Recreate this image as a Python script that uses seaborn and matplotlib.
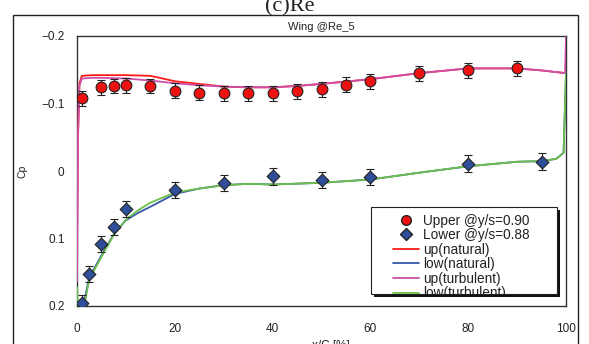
import numpy as np
import pandas as pd
import matplotlib
matplotlib.use("Agg")
import matplotlib.pyplot as plt
import seaborn as sns
from matplotlib.patches import Rectangle
from matplotlib.lines import Line2D

# ---------------- data ----------------
x_up = [1, 5, 7.5, 10, 15, 20, 25, 30, 35, 40, 45, 50, 55, 60, 70, 80, 90]
cp_up = [-0.108, -0.124, -0.126, -0.127, -0.126, -0.119, -0.116, -0.115, -0.115,
         -0.115, -0.118, -0.121, -0.128, -0.133, -0.145, -0.149, -0.152]
err_up = [0.011] * len(x_up)

x_low = [1, 2.5, 5, 7.5, 10, 20, 30, 40, 50, 60, 80, 95]
cp_low = [0.196, 0.152, 0.108, 0.083, 0.056, 0.028, 0.018, 0.008, 0.013, 0.009,
          -0.011, -0.014]
err_low = [0.012] * len(x_low)

x_upn = [0, 0.2, 0.5, 1, 3, 5, 10, 15, 20, 25, 30, 35, 40, 45, 50, 60, 70, 80,
         90, 95, 100]
cp_upn = [0.10, -0.05, -0.13, -0.141, -0.142, -0.142, -0.142, -0.141, -0.133,
          -0.129, -0.125, -0.124, -0.124, -0.126, -0.129, -0.136, -0.145, -0.152,
          -0.152, -0.149, -0.145]

x_upt = [0, 0.2, 0.5, 1, 3, 5, 10, 15, 20, 25, 30, 35, 40, 45, 50, 60, 70, 80,
         90, 95, 99.8, 100]
cp_upt = [0.164, -0.05, -0.127, -0.137, -0.138, -0.138, -0.137, -0.134, -0.130,
          -0.127, -0.125, -0.124, -0.124, -0.126, -0.129, -0.136, -0.145, -0.152,
          -0.152, -0.149, -0.145, -0.2]

x_lown = [0.8, 1.5, 2.5, 5, 7.5, 10, 12.5, 15, 20, 25, 30, 35, 40, 50, 60, 70,
          80, 90, 95, 98, 99.5, 100]
cp_lown = [0.215, 0.192, 0.158, 0.125, 0.094, 0.073, 0.062, 0.053, 0.034, 0.026,
           0.021, 0.019, 0.020, 0.0175, 0.0126, 0.0025, -0.007, -0.0137, -0.0146,
           -0.018, -0.027, -0.145]

x_lowt = [0, 0.3, 1.2, 2.5, 5, 7.5, 10, 12.5, 15, 20, 25, 30, 35, 40, 50, 60, 70,
          80, 90, 95, 98, 99.5, 100]
cp_lowt = [0.172, 0.215, 0.21, 0.161, 0.127, 0.095, 0.072, 0.058, 0.047, 0.032,
           0.026, 0.021, 0.019, 0.020, 0.0175, 0.0126, 0.0025, -0.007, -0.0137,
           -0.0146, -0.018, -0.027, -0.145]

x_ticks = [0, 20, 40, 60, 80, 100]
y_ticks = [-0.2, -0.1, 0, 0.1, 0.2]
y_ticklabels = ["\u22120.2", "\u22120.1", "0", "0.1", "0.2"]

# ---------------- style ----------------
sns.set_theme(style="white")
plt.rcParams["font.family"] = ["Liberation Sans", "DejaVu Sans"]

fig = plt.figure(figsize=(5.89, 3.44), dpi=100)
ax = fig.add_axes([77 / 589, 1 - 306 / 344, (566 - 77) / 589, (306 - 36) / 344])

c_red = "#ff1a1a"
c_blue = "#3558a8"
c_mag = "#cc4fa8"
c_green = "#6cc04a"

def line(x, y, color, label):
    df = pd.DataFrame({"x": x, "y": y})
    sns.lineplot(data=df, x="x", y="y", sort=False, color=color, lw=1.3,
                 ax=ax, label=label, legend=False, zorder=3)

line(x_upn, cp_upn, c_red, "up(natural)")
line(x_lown, cp_lown, c_blue, "low(natural)")
line(x_upt, cp_upt, c_mag, "up(turbulent)")
line(x_lowt, cp_lowt, c_green, "low(turbulent)")

ax.errorbar(x_up, cp_up, yerr=err_up, fmt="none", ecolor="#222222",
            elinewidth=0.8, capsize=3, capthick=0.8, zorder=4)
ax.errorbar(x_low, cp_low, yerr=err_low, fmt="none", ecolor="#222222",
            elinewidth=0.8, capsize=3, capthick=0.8, zorder=4)

df_up = pd.DataFrame({"x": x_up, "cp": cp_up})
df_low = pd.DataFrame({"x": x_low, "cp": cp_low})
sns.scatterplot(data=df_up, x="x", y="cp", marker="o", s=60, color="#ee1111",
                edgecolor="#222222", linewidth=0.8, ax=ax, zorder=5, legend=False)
sns.scatterplot(data=df_low, x="x", y="cp", marker="D", s=42, color="#2f4f9a",
                edgecolor="#222222", linewidth=0.8, ax=ax, zorder=5, legend=False)

ax.set_xlim(0, 100)
ax.set_ylim(0.2, -0.2)
ax.set_xticks(x_ticks)
ax.set_yticks(y_ticks)
ax.set_yticklabels(y_ticklabels)
ax.tick_params(axis="both", direction="in", length=4, width=0.8,
               colors="#222222", labelsize=8.5, labelcolor="#222222")
ax.tick_params(axis="x", pad=12)
ax.tick_params(axis="y", pad=9)
for s in ax.spines.values():
    s.set_color("#333333")
    s.set_linewidth(1.0)
    s.set_visible(True)

ax.set_xlabel("x/C [%]", fontsize=8.5, color="#222222", labelpad=0)
ax.xaxis.set_label_coords(0.52, -0.125)
ax.set_ylabel("Cp", fontsize=7.5, color="#222222")
ax.yaxis.set_label_coords(-0.102, 0.5)

ax.set_title("Wing @Re_5", fontsize=8, color="#222222", pad=4)

# legend
handles = [
    Line2D([], [], marker="o", ls="none", markerfacecolor="#ee1111",
           markeredgecolor="#222222", markersize=7),
    Line2D([], [], marker="D", ls="none", markerfacecolor="#2f4f9a",
           markeredgecolor="#222222", markersize=6),
    Line2D([], [], color=c_red, lw=1.3),
    Line2D([], [], color=c_blue, lw=1.3),
    Line2D([], [], color=c_mag, lw=1.3),
    Line2D([], [], color=c_green, lw=1.3),
]
labels = ["Upper @y/s=0.90", "Lower @y/s=0.88", "up(natural)", "low(natural)",
          "up(turbulent)", "low(turbulent)"]

# legend box (axes coords)
bx0 = (371 - 77) / (566 - 77)
bx1 = (557 - 77) / (566 - 77)
by1 = (306 - 207) / (306 - 36)
by0 = (306 - 294) / (306 - 36)
shadow = Rectangle((bx0 + 0.007, by0 - 0.011), bx1 - bx0, by1 - by0,
                   transform=ax.transAxes, facecolor="#111111", edgecolor="none",
                   zorder=8)
box = Rectangle((bx0, by0), bx1 - bx0, by1 - by0, transform=ax.transAxes,
                facecolor="white", edgecolor="#222222", lw=0.8, zorder=9)
ax.add_patch(shadow)
ax.add_patch(box)

leg = ax.legend(handles, labels, loc="upper left",
                bbox_to_anchor=(bx0 + 0.025, by1 + 0.011), frameon=False,
                fontsize=9.8, handlelength=1.9, handletextpad=0.3,
                labelspacing=0.04, borderpad=0.2)
leg.set_zorder(10)
for a in leg.findobj():
    if a is not leg:
        a.set_clip_path(box)
for t in leg.get_texts():
    t.set_color("#222222")

# outer frame
fig.patches.append(Rectangle((13 / 589, -0.05), (578 - 13) / 589, 1 - 15 / 344 + 0.05,
                             transform=fig.transFigure, fill=False,
                             edgecolor="#222222", lw=1.0))

# cropped panel caption at the very top
fig.text(290 / 589, 1 - 11 / 344, "(c)Re", fontsize=16, family="Liberation Serif",
         ha="center", va="baseline", color="#222222")

fig.savefig("out.png", dpi=100)
